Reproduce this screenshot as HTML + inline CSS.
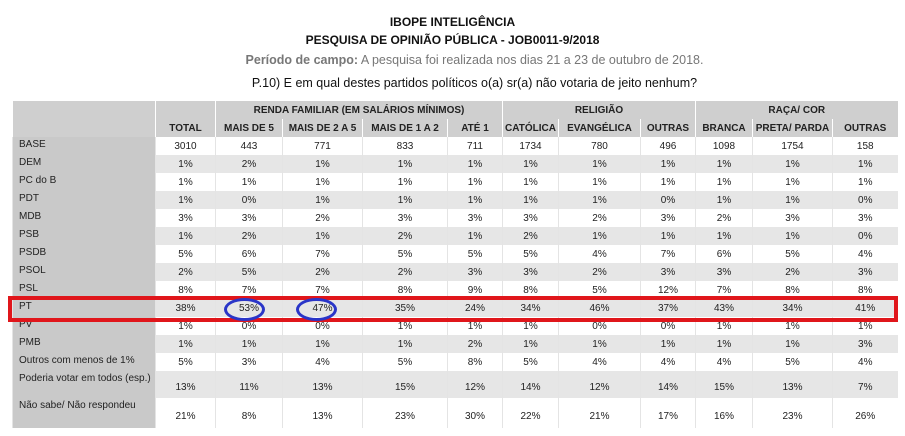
<!DOCTYPE html>
<html><head><meta charset="utf-8"><style>
body{margin:0;width:905px;height:436px;background:#fff;font-family:"Liberation Sans",sans-serif;position:relative;overflow:hidden}
.t{position:absolute;left:0;width:905px;text-align:center;color:#111}
table{position:absolute;left:12px;top:101px;border-collapse:collapse;font-size:10px;color:#222}
td{padding:0;text-align:center;border-left:1px solid #e4e4e4;height:18px}
td.l{text-align:left;padding-left:6px;background:#c9c9c9;vertical-align:top;padding-top:2px;height:16px}
tr.h td{background:#cfcfcf;font-weight:bold;font-size:10px;border-left:1px solid #fff}
tr.g td{background:#e6e6e6}
tr.g td.l,tr.w td.l{background:#c9c9c9}
</style></head><body>
<div class="t" style="top:15px;font-size:12px;font-weight:bold">IBOPE INTELIGÊNCIA</div>
<div class="t" style="top:33px;font-size:12px;font-weight:bold">PESQUISA DE OPINIÃO PÚBLICA - JOB0011-9/2018</div>
<div class="t" style="top:53px;font-size:12.5px;color:#777;left:22px"><b>Período de campo:</b> A pesquisa foi realizada nos dias 21 a 23 de outubro de 2018.</div>
<div class="t" style="top:76px;font-size:12.5px;left:22px">P.10) E em qual destes partidos políticos o(a) sr(a) não votaria de jeito nenhum?</div>
<table id="tb">
<colgroup><col style="width:143px"><col style="width:60px"><col style="width:67px"><col style="width:80px"><col style="width:85px"><col style="width:55px"><col style="width:56px"><col style="width:82px"><col style="width:55px"><col style="width:57px"><col style="width:80px"><col style="width:65px"></colgroup>
<tr class="h"><td class="l" style="background:#cfcfcf"></td><td></td><td colspan="4">RENDA FAMILIAR (EM SALÁRIOS MÍNIMOS)</td><td colspan="3">RELIGIÃO</td><td colspan="3">RAÇA/ COR</td></tr>
<tr class="h" id="hdr"><td class="l" style="background:#cfcfcf"></td></tr>
</table>
<div style="position:absolute;left:8px;top:296px;width:882px;height:18px;border:4px solid #e0161b"></div>
<div style="position:absolute;left:224px;top:298px;width:35px;height:17px;border:3px solid #2a35c8;border-radius:50%"></div>
<div style="position:absolute;left:296px;top:298px;width:35px;height:17px;border:3px solid #2a35c8;border-radius:50%"></div>
<script>
const columns=["TOTAL","MAIS DE 5","MAIS DE 2 A 5","MAIS DE 1 A 2","ATÉ 1","CATÓLICA","EVANGÉLICA","OUTRAS","BRANCA","PRETA/ PARDA","OUTRAS"];
const rowLabels=["BASE","DEM","PC do B","PDT","MDB","PSB","PSDB","PSOL","PSL","PT","PV","PMB","Outros com menos de 1%","Poderia votar em todos (esp.)","Não sabe/ Não respondeu"];
const base=["3010","443","771","833","711","1734","780","496","1098","1754","158"];
const dem=[1,2,1,1,1,1,1,1,1,1,1];
const pcdob=[1,1,1,1,1,1,1,1,1,1,1];
const pdt=[1,0,1,1,1,1,1,0,1,1,0];
const mdb=[3,3,2,3,3,3,2,3,2,3,3];
const psb=[1,2,1,2,1,2,1,1,1,1,0];
const psdb=[5,6,7,5,5,5,4,7,6,5,4];
const psol=[2,5,2,2,3,3,2,3,3,2,3];
const psl=[8,7,7,8,9,8,5,12,7,8,8];
const pt=[38,53,47,35,24,34,46,37,43,34,41];
const pv=[1,0,0,1,1,1,0,0,1,1,1];
const pmb=[1,1,1,1,2,1,1,1,1,1,3];
const outros=[5,3,4,5,8,5,4,4,4,5,4];
const poderia=[13,11,13,15,12,14,12,14,15,13,7];
const naosabe=[21,8,13,23,30,22,21,17,16,23,26];
const rows=[base,dem,pcdob,pdt,mdb,psb,psdb,psol,psl,pt,pv,pmb,outros,poderia,naosabe];
const tb=document.getElementById('tb');
const hdr=document.getElementById('hdr');
columns.forEach(c=>{const td=document.createElement('td');td.textContent=c;


hdr.appendChild(td);});
rows.forEach((r,i)=>{
 const tr=document.createElement('tr');
 tr.className=(i%2==1)?'g':'w';
 
 
 const l=document.createElement('td');l.className='l';l.textContent=rowLabels[i];
 if(i==13)l.style.height='25px';
 if(i==14)l.style.height='28px';
 tr.appendChild(l);
 r.forEach(v=>{const td=document.createElement('td');td.textContent=(i==0)?v:v+'%';
 
 
 if(i>=13)td.style.paddingTop='6px';
 tr.appendChild(td);});
 tb.appendChild(tr);
});
</script>
</body></html>
